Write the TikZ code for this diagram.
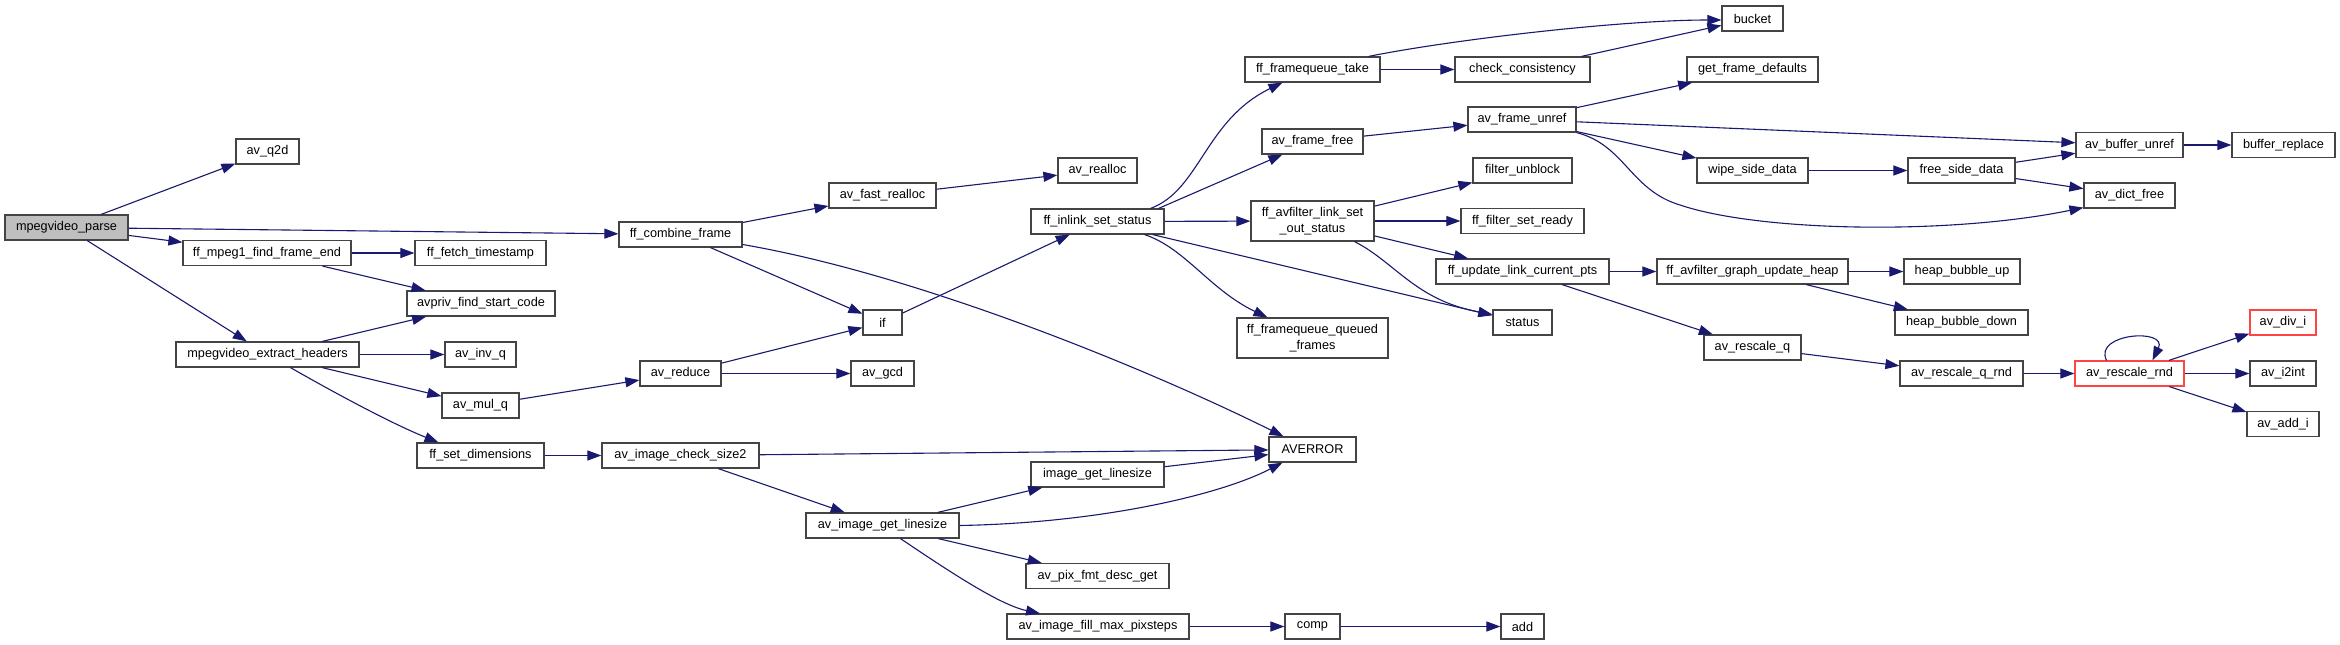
\documentclass[tikz,border=0pt]{standalone}
\usepackage{fontspec}
\newfontfamily\nodefont{Liberation Sans}
\usetikzlibrary{arrows.meta,calc}
\definecolor{edgeblue}{HTML}{191970}
\definecolor{boxline}{HTML}{444444}
\definecolor{rootfill}{HTML}{BFBFBF}
\definecolor{truncred}{HTML}{FF4444}
\tikzset{
  box/.style={draw=boxline, line width=1.2pt, fill=white, inner sep=0pt, minimum height=25pt,
    font=\nodefont\fontsize{12.7}{15.5}\selectfont, text=black, align=center},
  rootbox/.style={box, fill=rootfill},
  truncbox/.style={box, draw=truncred},
  arr/.style={draw=edgeblue, line width=1.1pt, -{Triangle[length=14pt,width=10pt]}}
}
\begin{document}
\begin{tikzpicture}[x=1pt,y=-1pt]
\useasboundingbox[fill=white] (0,0) rectangle (2340,645);
\node[rootbox,minimum width=123] (parse) at (66.5,227.5) {mpegvideo\_parse};
\node[box,minimum width=63] (q2d) at (267.5,151.5) {av\_q2d};
\node[box,minimum width=168] (mpeg1) at (267,253) {ff\_mpeg1\_find\_frame\_end};
\node[box,minimum width=131] (fetch) at (480.5,253) {ff\_fetch\_timestamp};
\node[box,minimum width=148] (avpriv) at (481,303.5) {avpriv\_find\_start\_code};
\node[box,minimum width=123] (combine) at (680.5,234.5) {ff\_combine\_frame};
\node[box,minimum width=107] (fastrealloc) at (882.5,195.5) {av\_fast\_realloc};
\node[box,minimum width=79] (realloc) at (1097.5,170.5) {av\_realloc};
\node[box,minimum width=133] (inlink) at (1097.5,221.5) {ff\_inlink\_set\_status};
\node[box,minimum width=39] (if) at (882.5,322.5) {if};
\node[box,minimum width=135] (fqtake) at (1312.5,69.5) {ff\_framequeue\_take};
\node[box,minimum width=135] (checkc) at (1522.5,69.5) {check\_consistency};
\node[box,minimum width=101] (framefree) at (1312.5,141.5) {av\_frame\_free};
\node[box,minimum width=108] (frameunref) at (1522,119.5) {av\_frame\_unref};
\node[box,minimum width=99] (unblock) at (1522.5,170.5) {filter\_unblock};
\node[box,minimum width=123,minimum height=40] (setout) at (1312.5,221) {ff\_avfilter\_link\_set\\\_out\_status};
\node[box,minimum width=123] (setready) at (1522.5,221) {ff\_filter\_set\_ready};
\node[box,minimum width=173] (updpts) at (1522.5,271.5) {ff\_update\_link\_current\_pts};
\node[box,minimum width=59] (status) at (1522.5,322.5) {status};
\node[box,minimum width=151,minimum height=40] (queued) at (1312.5,338) {ff\_framequeue\_queued\\\_frames};
\node[box,minimum width=61] (bucket) at (1752.5,18.5) {bucket};
\node[box,minimum width=131] (getdef) at (1752.5,69.5) {get\_frame\_defaults};
\node[box,minimum width=111] (wipe) at (1752.5,170.5) {wipe\_side\_data};
\node[box,minimum width=107] (freeside) at (1961.5,170.5) {free\_side\_data};
\node[box,minimum width=191] (heapupd) at (1752.5,271.5) {ff\_avfilter\_graph\_update\_heap};
\node[box,minimum width=116] (bubup) at (1962,271.5) {heap\_bubble\_up};
\node[box,minimum width=133] (bubdown) at (1961.5,322.5) {heap\_bubble\_down};
\node[box,minimum width=107] (bufunref) at (2129.5,145) {av\_buffer\_unref};
\node[box,minimum width=103] (bufrep) at (2283.5,145) {buffer\_replace};
\node[box,minimum width=91] (dictfree) at (2129.5,195.5) {av\_dict\_free};
\node[truncbox,minimum width=66] (divi) at (2283,322.5) {av\_div\_i};
\node[box,minimum width=183] (extract) at (267.5,354.5) {mpegvideo\_extract\_headers};
\node[box,minimum width=71] (invq) at (480.5,354.5) {av\_inv\_q};
\node[box,minimum width=77] (mulq) at (480.5,405.5) {av\_mul\_q};
\node[box,minimum width=81] (reduce) at (680.5,373.5) {av\_reduce};
\node[box,minimum width=127] (setdim) at (480.5,455.5) {ff\_set\_dimensions};
\node[box,minimum width=157] (checksize) at (680.5,455.5) {av\_image\_check\_size2};
\node[box,minimum width=63] (gcd) at (882.5,373.5) {av\_gcd};
\node[box,minimum width=133] (imgls) at (1097.5,474.5) {image\_get\_linesize};
\node[box,minimum width=153] (getls) at (882.5,525.5) {av\_image\_get\_linesize};
\node[box,minimum width=143] (pixfmt) at (1097.5,576) {av\_pix\_fmt\_desc\_get};
\node[box,minimum width=182] (fillmax) at (1098,626.5) {av\_image\_fill\_max\_pixsteps};
\node[box,minimum width=87] (averror) at (1312.5,449.5) {AVERROR};
\node[box,minimum width=55] (comp) at (1312.5,626.5) {comp};
\node[box,minimum width=43] (add) at (1522.5,626.5) {add};
\node[box,minimum width=97] (rescaleq) at (1752.5,347.5) {av\_rescale\_q};
\node[box,minimum width=123] (rqrnd) at (1961.5,373.5) {av\_rescale\_q\_rnd};
\node[truncbox,minimum width=109] (rrnd) at (2129.5,373.5) {av\_rescale\_rnd};
\node[box,minimum width=66] (i2int) at (2283,373.5) {av\_i2int};
\node[box,minimum width=72] (addi) at (2283,424) {av\_add\_i};

\draw[arr] (parse) -- (q2d);
\draw[arr] (parse) -- (combine);
\draw[arr] (parse) -- (mpeg1);
\draw[arr] (parse) -- (extract);
\draw[arr] (mpeg1) -- (fetch);
\draw[arr] (mpeg1) -- (avpriv);
\draw[arr] (extract) -- (avpriv);
\draw[arr] (extract) -- (invq);
\draw[arr] (extract) -- (mulq);
\draw[arr] ($(extract.south)+(23,0)$) .. controls (340,396) and (395,425) .. ($(setdim.north)+(-42,0)$);
\draw[arr] (combine) -- (fastrealloc);
\draw[arr] (combine) -- (if);
\draw[arr] ($(combine.east)+(0,10)$) .. controls (920,275) and (1150,370) .. ($(averror.north)+(-29,0)$);
\draw[arr] (fastrealloc) -- (realloc);
\draw[arr] (mulq) -- (reduce);
\draw[arr] (reduce) -- (if);
\draw[arr] (reduce) -- (gcd);
\draw[arr] (if) -- (inlink);
\draw[arr] (setdim) -- (checksize);
\draw[arr] (checksize) -- (averror);
\draw[arr] (checksize) -- (getls);
\draw[arr] (getls) -- (imgls);
\draw[arr] (getls.east) .. controls (1100,523) and (1220,495) .. ($(averror.south)+(-30,0)$);
\draw[arr] (getls) -- (pixfmt);
\draw[arr] ($(getls.south)+(18,0)$) .. controls (950,572) and (1000,605) .. ($(fillmax.north)+(-58,0)$);
\draw[arr] (imgls) -- (averror);
\draw[arr] (fillmax) -- (comp);
\draw[arr] (comp) -- (add);
\draw[arr] ($(inlink.north east)+(-14,0)$) .. controls (1200,190) and (1205,120) .. ($(fqtake.south west)+(38,0)$);
\draw[arr] ($(inlink.north east)+(-6,0)$) -- (framefree);
\draw[arr] (inlink) -- (setout);
\draw[arr] (inlink) -- (status);
\draw[arr] ($(inlink.south east)+(-20,0)$) .. controls (1185,248) and (1210,290) .. ($(queued.north west)+(31,0)$);
\draw[arr] ($(fqtake.north east)+(-12,0)$) .. controls (1450,40) and (1620,20) .. ($(bucket.west)+(0,1.5)$);
\draw[arr] (fqtake) -- (checkc);
\draw[arr] (checkc) -- (bucket);
\draw[arr] (framefree) -- (frameunref);
\draw[arr] (frameunref) -- (getdef);
\draw[arr] (frameunref) -- (bufunref);
\draw[arr] (frameunref) -- (wipe);
\draw[arr] (frameunref.south east) .. controls (1625,145) and (1630,190) .. (1680,205) .. controls (1760,232) and (1950,235) .. ($(dictfree.south west)+(0,-1)$);
\draw[arr] (wipe) -- (freeside);
\draw[arr] (freeside) -- (bufunref);
\draw[arr] (freeside) -- (dictfree);
\draw[arr] (bufunref) -- (bufrep);
\draw[arr] (setout) -- (unblock);
\draw[arr] (setout) -- (setready);
\draw[arr] (setout) -- (updpts);
\draw[arr] ($(setout.south)+(42,0)$) .. controls (1395,262) and (1415,300) .. ($(status.west)+(0,-8)$);
\draw[arr] (updpts) -- (heapupd);
\draw[arr] (updpts) -- (rescaleq);
\draw[arr] (heapupd) -- (bubup);
\draw[arr] (heapupd) -- (bubdown);
\draw[arr] (rescaleq) -- (rqrnd);
\draw[arr] (rqrnd) -- (rrnd);
\draw[arr] ($(rrnd.north)+(-23,0)$) .. controls (2093,333) and (2168,328) .. ($(rrnd.north)+(23,0)$);
\draw[arr] (rrnd) -- (divi);
\draw[arr] (rrnd) -- (i2int);
\draw[arr] (rrnd) -- (addi);
\end{tikzpicture}
\end{document}
